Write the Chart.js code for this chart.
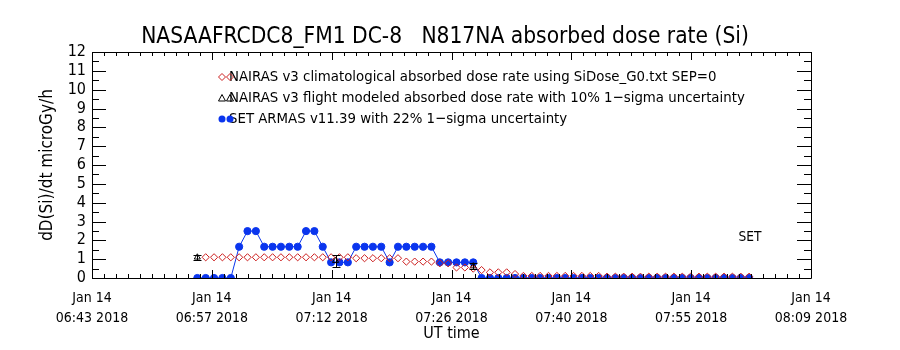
<!DOCTYPE html>
<html><head><meta charset="utf-8">
<script src="https://cdn.jsdelivr.net/npm/chart.js@4/dist/chart.umd.min.js"></script>
<style>html,body{margin:0;padding:0;background:#fff}</style>
</head><body>
<canvas id="c" width="900" height="350" style="display:block;width:900px;height:350px"></canvas>
<script>
// ---------------- data ----------------
const titleText = "NASAAFRCDC8_FM1 DC-8   N817NA absorbed dose rate (Si)";
const yTitleText = "dD(Si)/dt microGy/h";
const xTitleText = "UT time";
const annotationText = "SET";
const legendLabels = [
  "NAIRAS v3 climatological absorbed dose rate using SiDose_G0.txt SEP=0",
  "NAIRAS v3 flight modeled absorbed dose rate with 10% 1\u2212sigma uncertainty",
  "SET ARMAS v11.39 with 22% 1\u2212sigma uncertainty"
];
const xAxisStart = "06:43:00";
const xAxisEnd = "08:09:00";
const xTickDates = ["Jan 14","Jan 14","Jan 14","Jan 14","Jan 14","Jan 14","Jan 14"];
const xTickTimes = ["06:43 2018","06:57 2018","07:12 2018","07:26 2018","07:40 2018","07:55 2018","08:09 2018"];
const yMin = 0, yMax = 12;

const times = [
  "06:55:36","06:56:36","06:57:36","06:58:36","06:59:36",
  "07:00:36","07:01:36","07:02:36","07:03:36","07:04:36","07:05:36","07:06:36","07:07:36","07:08:36","07:09:36",
  "07:10:36","07:11:36","07:12:36","07:13:36","07:14:36","07:15:36","07:16:36","07:17:36","07:18:36","07:19:36",
  "07:20:36","07:21:36","07:22:36","07:23:36","07:24:36","07:25:36","07:26:36","07:27:36","07:28:36","07:29:36",
  "07:30:36","07:31:36","07:32:36","07:33:36","07:34:36","07:35:36","07:36:36","07:37:36","07:38:36","07:39:36",
  "07:40:36","07:41:36","07:42:36","07:43:36","07:44:36","07:45:36","07:46:36","07:47:36","07:48:36","07:49:36",
  "07:50:36","07:51:36","07:52:36","07:53:36","07:54:36","07:55:36","07:56:36","07:57:36","07:58:36","07:59:36",
  "08:00:36","08:01:36"
];
const setValues = [
  0,0,0,0,0,
  1.66,2.49,2.49,1.66,1.66,1.66,1.66,1.66,2.49,2.49,
  1.66,0.83,0.83,0.83,1.66,1.66,1.66,1.66,0.83,1.66,
  1.66,1.66,1.66,1.66,0.83,0.83,0.83,0.83,0.83,0,
  0,0,0,0,0,0,0,0,0,0,
  0,0,0,0,0,0,0,0,0,0,
  0,0,0,0,0,0,0,0,0,0,
  0,0
];
const climValues = [
  null,1.10,1.10,1.10,1.10,
  1.10,1.10,1.10,1.10,1.10,1.10,1.10,1.10,1.10,1.10,
  1.10,1.10,1.10,1.10,1.05,1.05,1.05,1.05,1.05,1.05,
  0.87,0.87,0.87,0.87,0.78,0.78,0.56,0.56,0.50,0.42,
  0.30,0.30,0.30,0.21,0.11,0.11,0.11,0.11,0.11,0.11,
  0.11,0.11,0.11,0.11,0.07,0.07,0.07,0.07,0.07,0.07,
  0.07,0.07,0.07,0.07,0.07,0.07,0.07,0.07,0.07,0.07,
  0.07,0.07
];
const flightTimes = ["06:55:36","07:12:08","07:28:36"];
const flightValues = [1.10, 0.92, 0.63];
const flightErrors = [0.13, 0.31, 0.17];

// ---------------- helpers ----------------
const toMin = t => { const [h,m,s] = t.split(':').map(Number); return h*60 + m + s/60; };
const X0 = toMin(xAxisStart);
const rel = t => toMin(t) - X0;
const FONT = '"Liberation Sans Narrow","DejaVu Sans Condensed","Liberation Sans",sans-serif';
const RED = '#cc1f1f', BLUE = '#0a35ee', BLACK = '#000000';

const climData = times.map((t,i) => ({x: rel(t), y: climValues[i]})).filter(p => p.y !== null);
const setData = times.map((t,i) => ({x: rel(t), y: setValues[i]}));
const flightData = flightTimes.map((t,i) => ({x: rel(t), y: flightValues[i], err: flightErrors[i]}));

function fitSize(ctx, text, targetW) {
  ctx.font = '100px ' + FONT;
  return 100 * targetW / ctx.measureText(text).width;
}

const decor = {
  id: 'decor',
  afterDatasetsDraw(chart) {
    const ctx = chart.ctx, xs = chart.scales.x, ys = chart.scales.y;
    const {left, right, top, bottom} = chart.chartArea;
    ctx.save();
    ctx.strokeStyle = BLACK; ctx.lineWidth = 1;
    ctx.beginPath();
    ctx.rect(Math.round(left)+0.5, Math.round(top)+0.5, Math.round(right-left), Math.round(bottom-top));
    ctx.stroke();
    const nMinor = 10, nMajor = xTickTimes.length - 1;
    for (let i = 0; i <= nMajor*nMinor; i++) {
      const v = xs.min + i*(xs.max-xs.min)/(nMajor*nMinor);
      const px = Math.round(xs.getPixelForValue(v)) + 0.5;
      const len = (i % nMinor === 0) ? 8 : 4;
      ctx.beginPath();
      ctx.moveTo(px, bottom); ctx.lineTo(px, bottom - len);
      ctx.moveTo(px, top); ctx.lineTo(px, top + len);
      ctx.stroke();
    }
    for (let v = yMin; v <= yMax + 1e-9; v += 0.5) {
      const py = Math.round(ys.getPixelForValue(v)) + 0.5;
      const len = (Math.abs(v - Math.round(v)) < 1e-6) ? 14 : 7;
      ctx.beginPath();
      ctx.moveTo(left, py); ctx.lineTo(left + len, py);
      ctx.moveTo(right, py); ctx.lineTo(right - len, py);
      ctx.stroke();
    }
    flightData.forEach(p => {
      const px = Math.round(xs.getPixelForValue(p.x)) + 0.5;
      const y1 = Math.round(ys.getPixelForValue(p.y + p.err)) + 0.5;
      const y2 = Math.round(ys.getPixelForValue(p.y - p.err)) + 0.5;
      ctx.beginPath();
      ctx.moveTo(px, y1); ctx.lineTo(px, y2);
      ctx.moveTo(px - 4, y1); ctx.lineTo(px + 4, y1);
      ctx.moveTo(px - 4, y2); ctx.lineTo(px + 4, y2);
      ctx.stroke();
    });
    ctx.fillStyle = BLACK;
    ctx.textBaseline = 'middle';
    ctx.textAlign = 'center';
    ctx.font = fitSize(ctx, titleText, 608).toFixed(2) + 'px ' + FONT;
    ctx.fillText(titleText, 445, 37);
    const ls = fitSize(ctx, legendLabels[1], 516);
    ctx.font = ls.toFixed(2) + 'px ' + FONT;
    ctx.textAlign = 'left';
    const ly = [77, 98, 119];
    legendLabels.forEach((t, i) => ctx.fillText(t, 229, ly[i]));
    const sx = [222, 230];
    sx.forEach(x => {
      ctx.strokeStyle = RED; ctx.beginPath();
      ctx.moveTo(x, ly[0]-3.5); ctx.lineTo(x+3.5, ly[0]); ctx.lineTo(x, ly[0]+3.5); ctx.lineTo(x-3.5, ly[0]); ctx.closePath(); ctx.stroke();
      ctx.strokeStyle = BLACK; ctx.beginPath();
      ctx.moveTo(x, ly[1]-3.5); ctx.lineTo(x+3.5, ly[1]+3); ctx.lineTo(x-3.5, ly[1]+3); ctx.closePath(); ctx.stroke();
      ctx.fillStyle = BLUE; ctx.beginPath(); ctx.arc(x, ly[2], 3.5, 0, Math.PI*2); ctx.fill();
    });
    ctx.fillStyle = BLACK;
    ctx.textAlign = 'center';
    ctx.font = fitSize(ctx, annotationText, 23).toFixed(2) + 'px ' + FONT;
    ctx.fillText(annotationText, 750, 237);
    ctx.restore();
  }
};

new Chart(document.getElementById('c'), {
  type: 'scatter',
  data: {
    datasets: [
      { label: legendLabels[0], data: climData, showLine: false,
        pointStyle: 'rectRot', pointRadius: 3.6, borderColor: RED, backgroundColor: 'rgba(0,0,0,0)', pointBorderWidth: 1 },
      { label: legendLabels[1], data: flightData, showLine: false,
        pointStyle: 'triangle', pointRadius: 3.5, borderColor: BLACK, backgroundColor: 'rgba(0,0,0,0)', pointBorderWidth: 1 },
      { label: legendLabels[2], data: setData, showLine: true, borderColor: BLUE, borderWidth: 1,
        pointStyle: 'circle', pointRadius: 3.6, backgroundColor: BLUE, pointBackgroundColor: BLUE, pointBorderColor: BLUE, tension: 0 }
    ]
  },
  options: {
    responsive: false, animation: false, devicePixelRatio: 1,
    layout: { padding: { left: 0, right: 89, top: 52, bottom: 0 } },
    plugins: { legend: { display: false }, tooltip: { enabled: false }, title: { display: false } },
    scales: {
      x: {
        type: 'linear', min: 0, max: rel(xAxisEnd),
        grid: { display: false, drawTicks: false }, border: { display: false },
        afterBuildTicks: s => { const n = xTickTimes.length - 1; s.ticks = xTickTimes.map((_, i) => ({ value: s.min + i*(s.max - s.min)/n })); },
        afterFit: s => { s.height = 72; },
        ticks: { autoSkip: false, maxRotation: 0, minRotation: 0, padding: 11, color: BLACK,
          font: { family: FONT, size: 14, lineHeight: 1.4 },
          callback: (v, i) => [xTickDates[i], xTickTimes[i]] },
        title: { display: true, text: xTitleText, color: BLACK, font: { family: FONT, size: 16 }, padding: { top: 0, bottom: 7 } }
      },
      y: {
        type: 'linear', min: yMin, max: yMax,
        grid: { display: false, drawTicks: false }, border: { display: false },
        afterFit: s => { s.width = 92; },
        afterBuildTicks: s => { const t = []; for (let v = yMin; v <= yMax; v++) t.push({ value: v }); s.ticks = t; },
        ticks: { autoSkip: false, stepSize: 1, padding: 6, color: BLACK, font: { family: FONT, size: 16 } },
        title: { display: true, text: yTitleText, color: BLACK, font: { family: FONT, size: 17 }, padding: { top: 37 } }
      }
    }
  },
  plugins: [decor]
});
</script>
</body></html>
